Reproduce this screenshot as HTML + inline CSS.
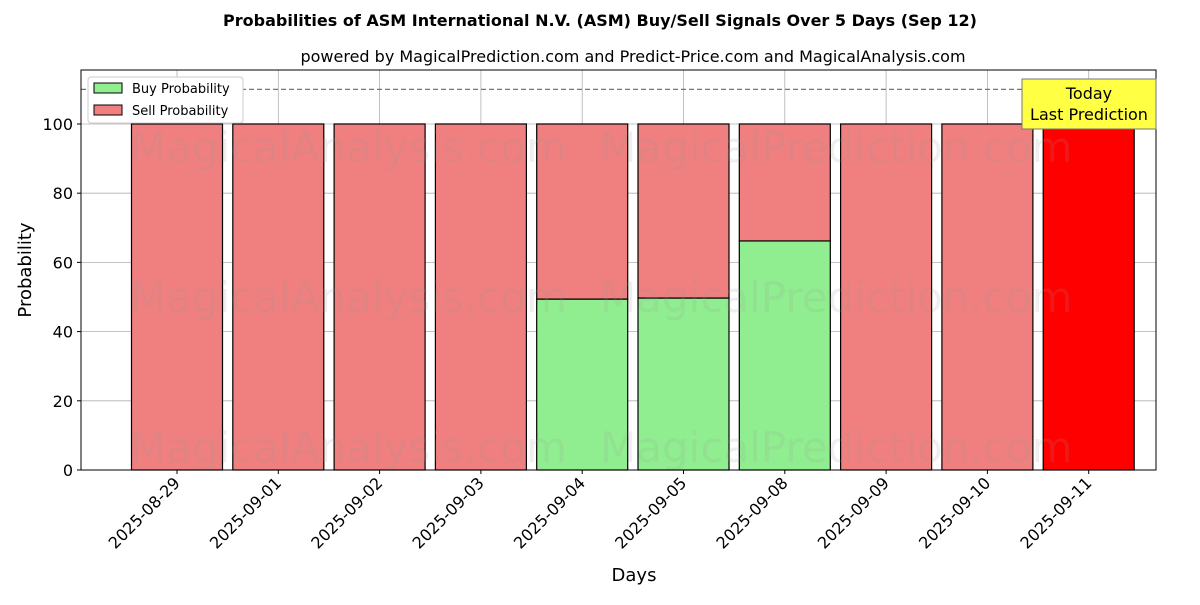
<!DOCTYPE html>
<html><head><meta charset="utf-8"><style>
body{margin:0;background:#fff;font-family:"Liberation Sans","DejaVu Sans",sans-serif}
</style></head><body>
<svg id="chart" width="1200" height="600" xmlns="http://www.w3.org/2000/svg" font-family="DejaVu Sans, Liberation Sans, sans-serif">
<text x="600" y="26" text-anchor="middle" font-size="16" font-weight="bold">Probabilities of ASM International N.V. (ASM) Buy/Sell Signals Over 5 Days (Sep 12)</text>
<text x="633" y="62" text-anchor="middle" font-size="16">powered by MagicalPrediction.com and Predict-Price.com and MagicalAnalysis.com</text>
<g id="grid"></g>
<g id="bars"></g>
<g id="wm" fill="#999" opacity="0.15" font-size="42">
<text x="130" y="162">MagicalAnalysis.com</text><text x="600" y="162">MagicalPrediction.com</text>
<text x="130" y="312">MagicalAnalysis.com</text><text x="600" y="312">MagicalPrediction.com</text>
<text x="130" y="462">MagicalAnalysis.com</text><text x="600" y="462">MagicalPrediction.com</text>
</g>
<g id="axes"></g>
<text x="634" y="581" text-anchor="middle" font-size="18">Days</text>
<text transform="translate(31,270) rotate(-90)" text-anchor="middle" font-size="18">Probability</text>
<g>
<rect x="88" y="77" width="155" height="46" fill="#fff" stroke="#ccc" rx="3"/>
<rect x="94" y="83" width="28" height="10" fill="#90ee90" stroke="#000"/>
<text x="132" y="93" font-size="13">Buy Probability</text>
<rect x="94" y="105" width="28" height="10" fill="#f08080" stroke="#000"/>
<text x="132" y="115" font-size="13">Sell Probability</text>
</g>
<g>
<rect x="1022" y="79" width="134" height="50" fill="#ffff44" stroke="#777"/>
<text x="1089" y="99" text-anchor="middle" font-size="16">Today</text>
<text x="1089" y="120" text-anchor="middle" font-size="16">Last Prediction</text>
</g>
</svg>
<script>
const categories=["2025-08-29","2025-09-01","2025-09-02","2025-09-03","2025-09-04","2025-09-05","2025-09-08","2025-09-09","2025-09-10","2025-09-11"];
const buyValues=[0,0,0,0,49.4,49.7,66.2,0,0,0];
const sellValues=[100,100,100,100,50.6,50.3,33.8,100,100,100];
const yTicks=[0,20,40,60,80,100];
const NS="http://www.w3.org/2000/svg";
const L=81,R=1156,T=70,B=470,yMax=115.6;
const y=v=>B-(v/yMax)*(B-T);
const x=i=>177+101.3*i;
const bw=91;
function mk(tag,attrs,parent,txt){const e=document.createElementNS(NS,tag);for(const k in attrs)e.setAttribute(k,attrs[k]);if(txt!==undefined)e.textContent=txt;document.getElementById(parent).appendChild(e);return e;}
yTicks.forEach(t=>{
 const g=mk('line',{x1:L,x2:R,y1:y(t),y2:y(t),stroke:'#b0b0b0','stroke-width':0.8},'grid');
 
 
 const tk=mk('line',{x1:L-4,x2:L,y1:y(t),y2:y(t),stroke:'#000'},'axes');
 
 
 const lb=mk('text',{x:L-8,y:y(t)+6,'text-anchor':'end','font-size':16},'axes',t);
 
 
});
categories.forEach((c,i)=>{
 const g=mk('line',{x1:x(i),x2:x(i),y1:T,y2:B,stroke:'#b0b0b0','stroke-width':0.8},'grid');
 
 
 const last=i===categories.length-1;
 if(buyValues[i]>0){
  const b=mk('rect',{x:x(i)-bw/2,y:y(buyValues[i]),width:bw,height:B-y(buyValues[i]),fill:'#90ee90',stroke:'#000','stroke-width':1.2},'bars');
  
  
 }
 const s=mk('rect',{x:x(i)-bw/2,y:y(buyValues[i]+sellValues[i]),width:bw,height:y(buyValues[i])-y(buyValues[i]+sellValues[i]),fill:last?'#ff0000':'#f08080',stroke:'#000','stroke-width':1.2},'bars');
 
 
 const tk=mk('line',{x1:x(i),x2:x(i),y1:B,y2:B+4,stroke:'#000'},'axes');
 
 
 const lb=mk('text',{x:x(i)+4,y:B+14,'text-anchor':'end','font-size':16,transform:`rotate(-45 ${x(i)+4} ${B+14})`},'axes',c);
 
 
});
const d=mk('line',{x1:L,x2:R,y1:y(110),y2:y(110),stroke:'#777','stroke-dasharray':'5,3','stroke-width':1.2},'grid');


const fr=mk('rect',{x:L,y:T,width:R-L,height:B-T,fill:'none',stroke:'#000','stroke-width':1},'axes');


</script>
</body></html>
